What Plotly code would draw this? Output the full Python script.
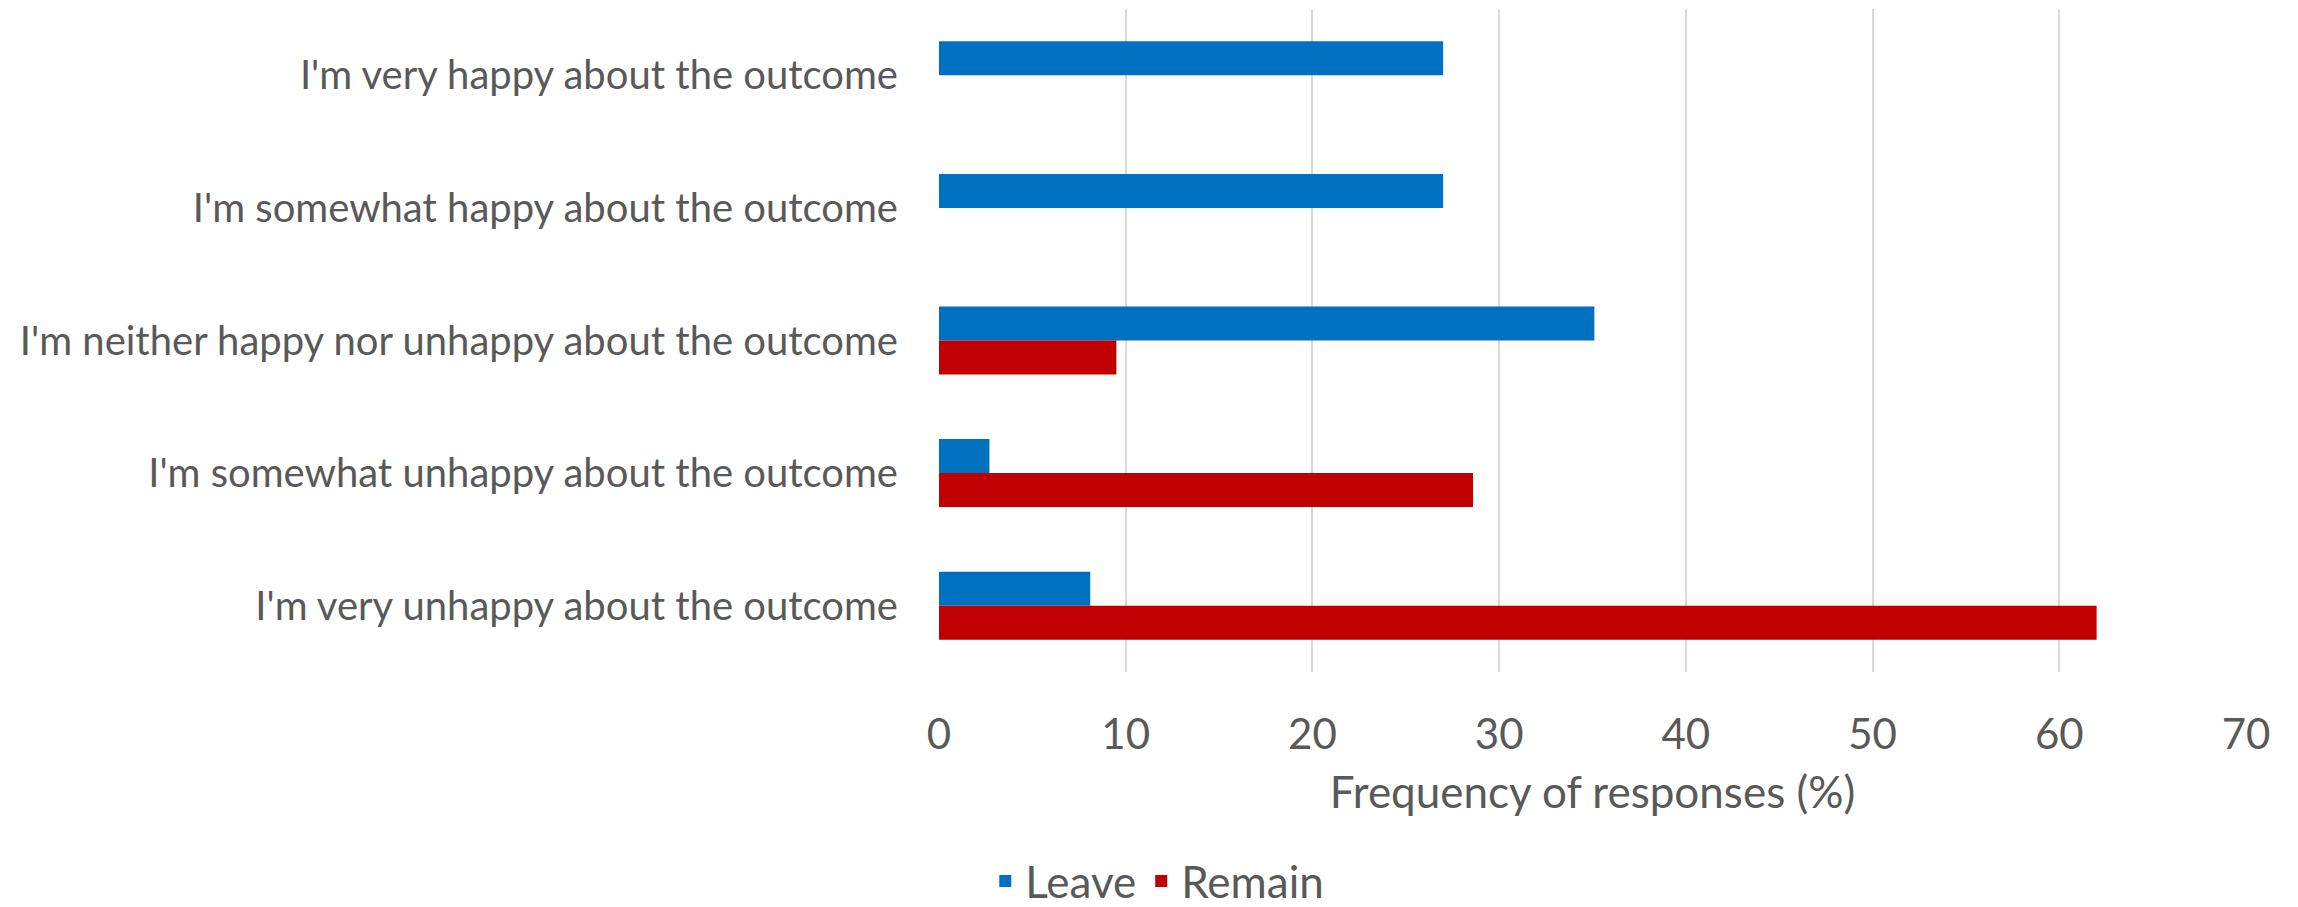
import plotly.graph_objects as go

categories = [
    "I'm very happy about the outcome",
    "I'm somewhat happy about the outcome",
    "I'm neither happy nor unhappy about the outcome",
    "I'm somewhat unhappy about the outcome",
    "I'm very unhappy about the outcome",
]
leave = [27.0, 27.0, 35.1, 2.7, 8.1]
remain = [0.0, 0.0, 9.5, 28.6, 62.0]
x_ticks = [0, 10, 20, 30, 40, 50, 60, 70]

FONT = "Lato"
GREY = "#595959"
FS = 40

fig = go.Figure()
fig.add_trace(go.Bar(name="Leave", y=categories, x=leave, orientation="h",
                     marker=dict(color="#0070C0", line=dict(width=0))))
fig.add_trace(go.Bar(name="Remain", y=categories, x=remain, orientation="h",
                     marker=dict(color="#C00000", line=dict(width=0))))

fig.update_layout(
    width=2298, height=907,
    margin=dict(l=939, r=52, t=9, b=235, autoexpand=False),
    paper_bgcolor="white", plot_bgcolor="white",
    barmode="group", bargap=0.487, bargroupgap=0,
    font=dict(family=FONT, size=FS, color=GREY),
    xaxis=dict(range=[0, 70], tickvals=x_ticks, showgrid=True, gridcolor="#D9D9D9",
               gridwidth=2, zeroline=False, showline=False, ticks="",
               ticklabelstandoff=34,
               tickfont=dict(family=FONT, size=42, color=GREY),
               title=dict(text="Frequency of responses (%)", standoff=20,
                          font=dict(family=FONT, size=44, color=GREY))),
    yaxis=dict(autorange="reversed", showgrid=False, zeroline=False, showline=False,
               ticks="", ticklabelstandoff=40,
               tickfont=dict(family=FONT, size=FS, color=GREY)),
    legend=dict(orientation="h", x=0.167, xanchor="center", y=-0.316, yanchor="middle",
                font=dict(family=FONT, size=44, color=GREY), traceorder="normal",
                tracegroupgap=0, itemwidth=30),
)

fig.write_html("out.html")
